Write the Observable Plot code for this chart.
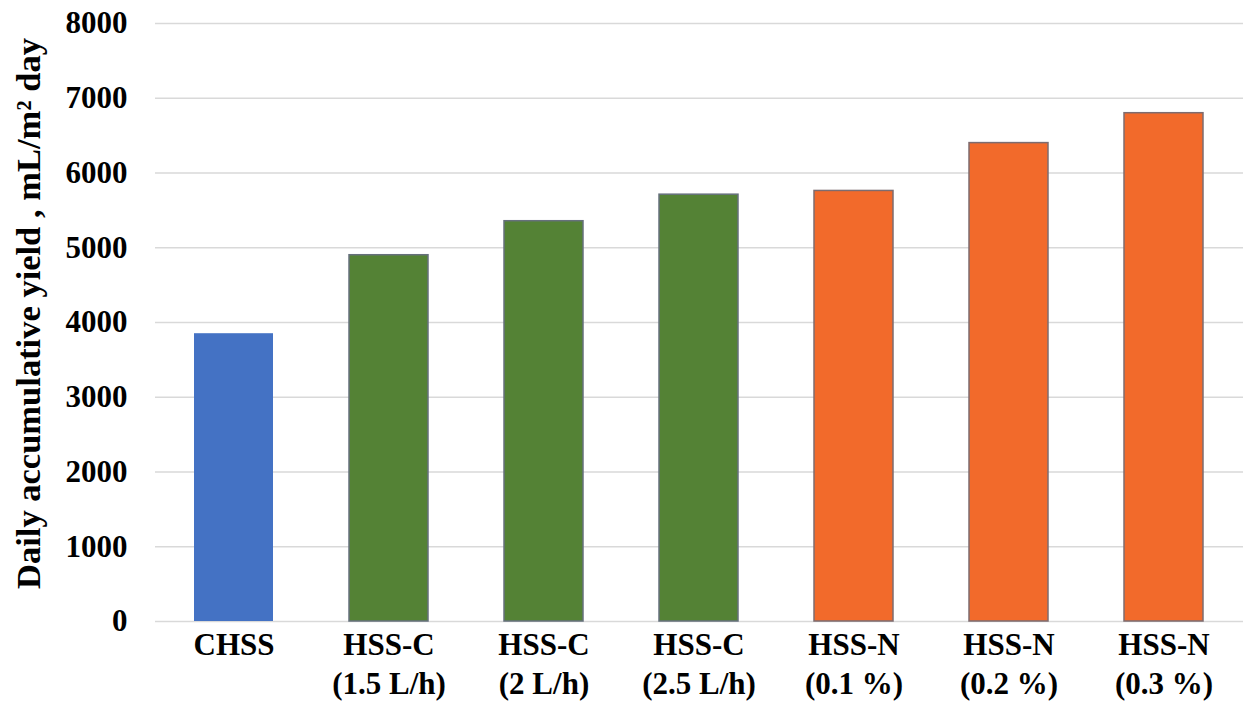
<!DOCTYPE html>
<html>
<head>
<meta charset="utf-8">
<script src="https://cdn.jsdelivr.net/npm/d3@7"></script>
<script src="https://cdn.jsdelivr.net/npm/@observablehq/plot@0.6"></script>
<style>
  html, body { margin: 0; padding: 0; background: #fff; }
</style>
</head>
<body>
<div id="chart"></div>
<script>
const categories = ["CHSS", "HSS-C\n(1.5 L/h)", "HSS-C\n(2 L/h)", "HSS-C\n(2.5 L/h)", "HSS-N\n(0.1 %)", "HSS-N\n(0.2 %)", "HSS-N\n(0.3 %)"];
const values = [3850, 4900, 5355, 5710, 5760, 6400, 6800];
const groups = ["CHSS", "HSS-C", "HSS-C", "HSS-C", "HSS-N", "HSS-N", "HSS-N"];
const groupColors = {"CHSS": "#4472C4", "HSS-C": "#548235", "HSS-N": "#F26A2B"};
const groupStroke = {"CHSS": "none", "HSS-C": "#66707c", "HSS-N": "#7d6c70"};
const yTicks = [0, 1000, 2000, 3000, 4000, 5000, 6000, 7000, 8000];
const yLabel = "Daily accumulative yield , mL/m\u00B2 day";

const data = categories.map((c, i) => ({cat: c, value: values[i], group: groups[i]}));

const chart = Plot.plot({
  width: 1243,
  height: 704,
  marginTop: 23,
  marginBottom: 83,
  marginLeft: 155,
  marginRight: 0,
  style: {fontFamily: "'Liberation Serif', 'Times New Roman', serif", fontWeight: "bold", fontSize: "31px", color: "#000", background: "#fff"},
  x: {domain: categories, paddingInner: 0.49, paddingOuter: 0.245, label: null},
  y: {domain: [0, 8000], label: null},
  marks: [
    Plot.gridY(yTicks, {stroke: "#d9d9d9", strokeOpacity: 1, strokeWidth: 1.5}),
    Plot.barY(data, {
      x: "cat", y: "value",
      fill: d => groupColors[d.group],
      stroke: d => groupStroke[d.group],
      strokeWidth: 1.5
    }),
    Plot.axisX({tickSize: 0, tickPadding: 5, lineHeight: 1.28, label: null, fontSize: 31}),
    Plot.axisY({ticks: yTicks, tickSize: 0, tickPadding: 28, tickFormat: d => String(d), label: null, fontSize: 31}),
    Plot.text([yLabel], {
      frameAnchor: "left", textAnchor: "middle", dx: -127, dy: -9, rotate: -90, fontSize: 34.5, fontWeight: "bold", fill: "#000"
    })
  ]
});
document.getElementById("chart").appendChild(chart);
</script>
</body>
</html>
